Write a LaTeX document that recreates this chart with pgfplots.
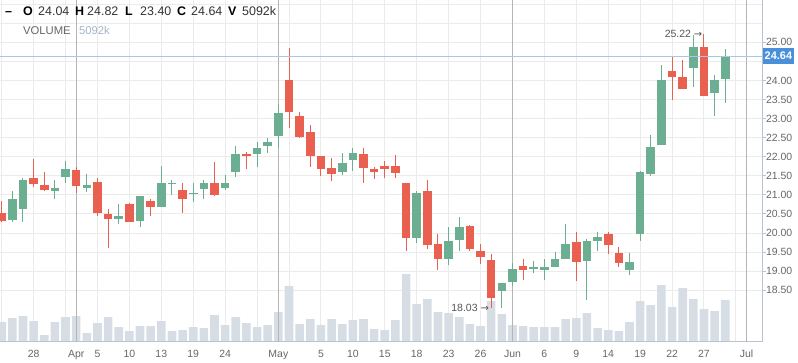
\documentclass[border=0pt]{standalone}
\usepackage{pgfplots}
\pgfplotsset{compat=1.18}
\usepackage{pgfplotstable}
\usepackage{fontspec}
\setmainfont{Liberation Sans}
\newfontfamily\dejavu{DejaVu Sans}
\definecolor{cgreen}{HTML}{6BAE92}
\definecolor{cred}{HTML}{EA6050}
\definecolor{volc}{HTML}{D6DDE4}
\definecolor{gridc}{HTML}{EBEBEB}
\definecolor{monthc}{HTML}{B5B5B5}
\definecolor{axisc}{HTML}{B8C5D1}
\definecolor{ticklab}{HTML}{666666}
\definecolor{bluel}{HTML}{A6C6EA}
\definecolor{blueb}{HTML}{4A8FDA}
\definecolor{volt}{HTML}{A2B4C6}
\definecolor{hdr}{HTML}{333333}
\definecolor{ann}{HTML}{555555}

% up candles (close >= open)
\pgfplotstableread{
x o h l c
1 20.33 21.09 20.30 20.90
2 20.64 21.43 20.30 21.38
5 21.10 21.40 20.88 21.19
6 21.46 21.90 21.31 21.67
8 21.19 21.54 21.07 21.25
11 20.36 20.75 20.25 20.46
13 20.31 20.98 20.15 20.96
15 20.68 21.77 20.68 21.30
16 21.28 21.40 21.01 21.31
18 21.03 21.31 20.81 21.05
19 21.15 21.38 20.90 21.32
21 21.17 21.51 21.14 21.30
22 21.59 22.27 21.46 22.08
24 22.08 22.39 21.74 22.24
25 22.29 22.50 22.11 22.39
26 22.55 23.39 22.24 23.15
32 21.61 22.10 21.53 21.83
33 21.92 22.23 21.63 22.10
39 19.86 21.11 19.75 21.04
42 19.33 20.17 19.15 19.80
43 19.83 20.43 19.52 20.17
47 18.49 18.68 18.04 18.68
48 18.73 19.22 18.60 19.06
50 19.07 19.27 18.94 19.10
51 19.02 19.32 18.78 19.11
52 19.12 19.51 19.10 19.32
53 19.31 20.25 19.31 19.72
55 19.28 19.85 18.25 19.80
56 19.78 20.04 19.54 19.90
59 19.04 19.47 18.90 19.24
60 19.97 21.62 19.79 21.60
61 21.55 22.57 21.50 22.25
62 22.32 24.41 22.32 24.02
65 24.32 25.18 23.82 24.89
67 23.66 24.15 23.08 24.02
68 24.04 24.82 23.40 24.64
}\up

% down candles (close < open)
\pgfplotstableread{
x o h l c
0 20.53 20.85 20.28 20.31
3 21.43 21.93 21.20 21.28
4 21.27 21.61 21.11 21.14
7 21.64 21.72 21.04 21.23
9 21.35 21.43 20.46 20.52
10 20.51 20.64 19.62 20.38
12 20.75 20.80 20.28 20.28
14 20.85 20.90 20.44 20.68
17 21.14 21.30 20.52 20.89
20 21.30 21.85 20.96 20.99
23 22.08 22.13 21.67 22.01
27 24.02 24.86 22.76 23.16
28 23.07 23.18 22.49 22.52
29 22.65 22.83 21.74 22.03
30 22.02 22.02 21.50 21.68
31 21.70 21.96 21.37 21.55
34 22.07 22.23 21.32 21.71
35 21.68 21.73 21.42 21.61
36 21.76 21.89 21.43 21.69
37 21.77 22.04 21.44 21.57
38 21.32 21.32 19.54 19.86
40 21.09 21.40 19.57 19.68
41 19.72 19.98 19.02 19.31
44 20.19 20.22 19.54 19.57
45 19.54 19.72 19.20 19.36
46 19.30 19.46 18.03 18.31
49 19.14 19.32 18.78 19.04
54 19.76 20.04 18.75 19.25
57 19.98 20.04 19.44 19.68
58 19.48 19.64 19.12 19.22
63 24.25 24.63 23.50 24.08
64 24.10 24.54 23.78 23.78
66 24.89 25.22 23.58 23.58
}\down

% volume (thousands)
\pgfplotstableread{
x v
0 2403
1 2891
2 3135
3 2525
4 817
5 2403
6 3013
7 3135
8 1061
9 2281
10 3013
11 1793
12 1305
13 1915
14 1915
15 2525
16 1305
17 1427
18 1793
19 1671
20 3257
21 2037
22 3013
23 2281
24 1793
25 2037
26 3623
27 6795
28 2159
29 2769
30 2037
31 2769
32 2159
33 2647
34 2769
35 1549
36 1427
37 2647
38 8259
39 4599
40 5209
41 3623
42 3501
43 3013
44 2159
45 1915
46 4965
47 3379
48 2037
49 1915
50 1793
51 1793
52 1793
53 2769
54 2891
55 3501
56 1671
57 1427
58 1305
59 2403
60 4965
61 4477
62 6917
63 4233
64 6551
65 5209
66 3989
67 3745
68 5092
}\vol

\pgfplotsset{
  base/.style={
    scale only axis, width=762.3bp, height=341.7bp,
    at={(0bp,21.3bp)}, anchor=south west,
    xmin=-0.16, xmax=71.48,
  },
  pricey/.style={ymin=17.152, ymax=26.109},
  candle/.style 2 args={draw=none, mark=none, forget plot,
    error bars/.cd, y dir=plus, y explicit, error mark=none,
    error bar style={line width=#1, draw=#2}},
}

\begin{document}
\begin{tikzpicture}
\useasboundingbox (0,0) rectangle (798bp,363bp);

% grid layer
\begin{axis}[base, pricey,
  axis line style={draw=none},
  xtick={0,3,...,69}, xticklabels={},
  ytick={18.5,19,19.5,20,20.5,21,21.5,22,22.5,23,23.5,24,24.5,25,25.5,26},
  yticklabels={},
  tick style={draw=none},
  grid=major, major grid style={draw=gridc, line width=1bp},
]
\addplot[draw=none, forget plot] coordinates {(0,20) (1,20)};
\end{axis}

% volume layer
\begin{axis}[base, ymin=0, ymax=41687,
  axis line style={draw=none},
  xtick=\empty, ytick=\empty,
]
\addplot[ybar, bar width=8.6bp, bar shift=0pt, fill=volc, draw=none] table[x=x, y=v] {\vol};
\end{axis}

% main layer
\begin{axis}[base, pricey,
  clip mode=individual,
  axis x line*=bottom, axis y line*=right,
  axis line style={draw=axisc, line width=1bp},
  xtick={3,9,12,15,18,21,30,33,36,39,42,45,51,54,57,60,63,66},
  xticklabels={28,5,10,13,19,24,5,10,15,18,23,26,6,9,14,19,22,27},
  extra x ticks={7,26,48,70},
  extra x tick labels={Apr,May,Jun,Jul},
  extra x tick style={grid=major, major grid style={draw=monthc, line width=1bp}},
  xtick style={draw=none},
  ytick={18.5,19,19.5,20,20.5,21,21.5,22,22.5,23,23.5,24,24.5,25},
  yticklabels={18.50,19.00,19.50,20.00,20.50,21.00,21.50,22.00,22.50,23.00,23.50,24.00,{},25.00},
  ytick style={draw=axisc, line width=1bp},
  tick align=outside, major tick length=3.5bp,
  yticklabel style={font=\fontsize{10.5}{12}\selectfont, text=ticklab, anchor=west, inner sep=0pt, xshift=0bp},
  xticklabel style={font=\fontsize{10.5}{12}\selectfont, text=ticklab, anchor=base, inner sep=0pt, yshift=-12.5bp},
]
% wicks
\addplot[candle={1bp}{cgreen}]
  table[x=x, y=l, y error expr=\thisrow{h}-\thisrow{l}] {\up};
\addplot[candle={1bp}{cred}]
  table[x=x, y=l, y error expr=\thisrow{h}-\thisrow{l}] {\down};
% bodies
\addplot[candle={8.6bp}{cgreen}]
  table[x=x, y=o, y error expr={max(\thisrow{c}-\thisrow{o},0.03)}] {\up};
\addplot[candle={8.6bp}{cred}]
  table[x=x, y=c, y error expr={max(\thisrow{o}-\thisrow{c},0.03)}] {\down};
% last price line
\addplot[bluel, line width=1bp, forget plot] coordinates {(-1,24.64) (73,24.64)};

\node[anchor=east, inner sep=0pt, text=ann, font=\fontsize{10.5}{12}\selectfont]
  at (axis cs:65.85,25.22) {25.22 {\dejavu\fontsize{10}{12}\selectfont →}};
\node[anchor=east, inner sep=0pt, text=ann, font=\fontsize{10.5}{12}\selectfont]
  at (axis cs:45.8,18.03) {18.03 {\dejavu\fontsize{10}{12}\selectfont →}};
\node[anchor=west, fill=blueb, text=white, inner xsep=2bp, inner ysep=0pt,
  minimum height=16bp, font=\bfseries\fontsize{11}{12}\selectfont]
  at (axis cs:71.5,24.64) {24.64};
\end{axis}

% header
\begin{scope}[every node/.style={anchor=base west, inner sep=0pt, font=\fontsize{12.5}{14}\selectfont}]
\node[text=black, font=\bfseries\fontsize{12.5}{14}\selectfont] at (5bp,347bp) {–};
\node[text=black, font=\bfseries\fontsize{12.5}{14}\selectfont] at (23bp,347bp) {O};
\node[text=hdr] at (38bp,347bp) {24.04};
\node[text=black, font=\bfseries\fontsize{12.5}{14}\selectfont] at (75bp,347bp) {H};
\node[text=hdr] at (87bp,347bp) {24.82};
\node[text=black, font=\bfseries\fontsize{12.5}{14}\selectfont] at (125bp,347bp) {L};
\node[text=hdr] at (140bp,347bp) {23.40};
\node[text=black, font=\bfseries\fontsize{12.5}{14}\selectfont] at (177bp,347bp) {C};
\node[text=hdr] at (191bp,347bp) {24.64};
\node[text=black, font=\bfseries\fontsize{12.5}{14}\selectfont] at (228bp,347bp) {V};
\node[text=hdr] at (242bp,347bp) {5092k};
\node[text=ticklab, font=\fontsize{11.3}{13}\selectfont] at (23bp,328bp) {VOLUME};
\node[text=volt, font=\fontsize{11.3}{13}\selectfont] at (79bp,328bp) {5092k};
\end{scope}
\end{tikzpicture}
\end{document}
